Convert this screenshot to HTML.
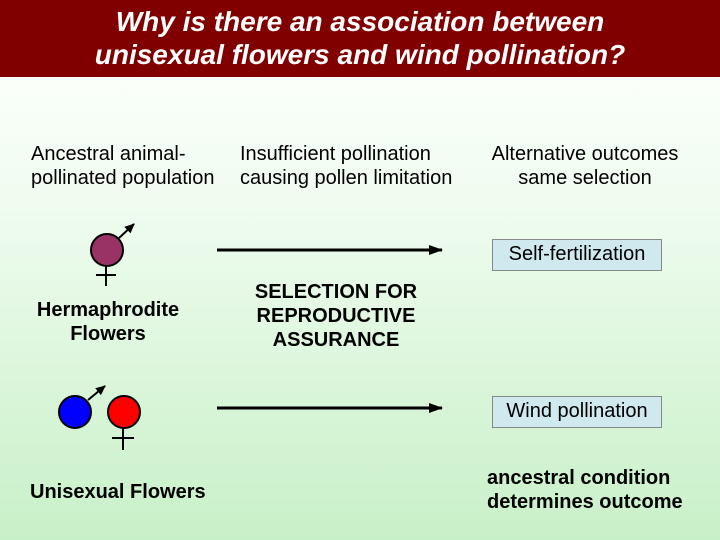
<!DOCTYPE html>
<html><head><style>
body{margin:0;width:720px;height:540px;overflow:hidden;font-family:"Liberation Sans",Arial,sans-serif;}
.bg{position:absolute;left:0;top:0;width:720px;height:540px;background:linear-gradient(#fafffa 78px,#f0fcf0 200px,#c8f0c8 540px);}
.title{position:absolute;left:0;top:0;width:720px;height:77px;background:#800000;color:#fff;font-style:italic;font-weight:bold;font-size:28px;line-height:33px;text-align:center;padding-top:5px;box-sizing:border-box;white-space:nowrap;}
.t{position:absolute;font-size:20px;line-height:24px;color:#000;white-space:nowrap;}
.b{font-weight:bold;}
.box{position:absolute;border:1px solid #888;background:#cfe9ee;font-size:20px;text-align:center;line-height:29px;white-space:nowrap;}
</style></head><body>
<div class="bg"></div>
<div class="title">Why is there an association between<br>unisexual flowers and wind pollination?</div>
<div class="t" style="left:31px;top:142px">Ancestral animal-<br>pollinated population</div>
<div class="t" style="left:240px;top:142px">Insufficient pollination<br>causing pollen limitation</div>
<div class="t" style="left:470px;top:142px;width:230px;text-align:center">Alternative outcomes<br>same selection</div>
<div class="t b" style="left:8px;top:298px;width:200px;text-align:center">Hermaphrodite<br>Flowers</div>
<div class="t b" style="left:226px;top:280px;width:220px;text-align:center">SELECTION FOR<br>REPRODUCTIVE<br>ASSURANCE</div>
<div class="t b" style="left:30px;top:480px">Unisexual Flowers</div>
<div class="t b" style="left:487px;top:466px">ancestral condition<br>determines outcome</div>
<div class="box" style="left:492px;top:239px;width:168px;height:30px">Self-fertilization</div>
<div class="box" style="left:492px;top:396px;width:168px;height:30px">Wind pollination</div>
<svg width="720" height="540" style="position:absolute;left:0;top:0">
<defs><marker id="a" markerWidth="14" markerHeight="10" refX="13" refY="5" orient="auto" markerUnits="userSpaceOnUse"><path d="M0,0L14,5L0,10z" fill="#000"/></marker>
<marker id="s" markerWidth="10" markerHeight="9" refX="9" refY="4.5" orient="auto" markerUnits="userSpaceOnUse"><path d="M0,0L10,4.5L0,9z" fill="#000"/></marker></defs>
<g stroke="#000" stroke-width="2">
<line x1="217" y1="250" x2="442" y2="250" stroke-width="3" marker-end="url(#a)"/>
<line x1="217" y1="408" x2="442" y2="408" stroke-width="3" marker-end="url(#a)"/>
<line x1="119" y1="238" x2="134" y2="224" marker-end="url(#s)"/>
<circle cx="107" cy="250" r="16" fill="#993366"/>
<line x1="106" y1="266" x2="106" y2="286"/><line x1="96" y1="275" x2="116" y2="275"/>
<line x1="88" y1="400" x2="105" y2="386" marker-end="url(#s)"/>
<circle cx="75" cy="412" r="16" fill="#0000ff"/>
<circle cx="124" cy="412" r="16" fill="#ff0000"/>
<line x1="123" y1="428" x2="123" y2="450"/><line x1="112" y1="438" x2="134" y2="438"/>
</g></svg>
</body></html>
